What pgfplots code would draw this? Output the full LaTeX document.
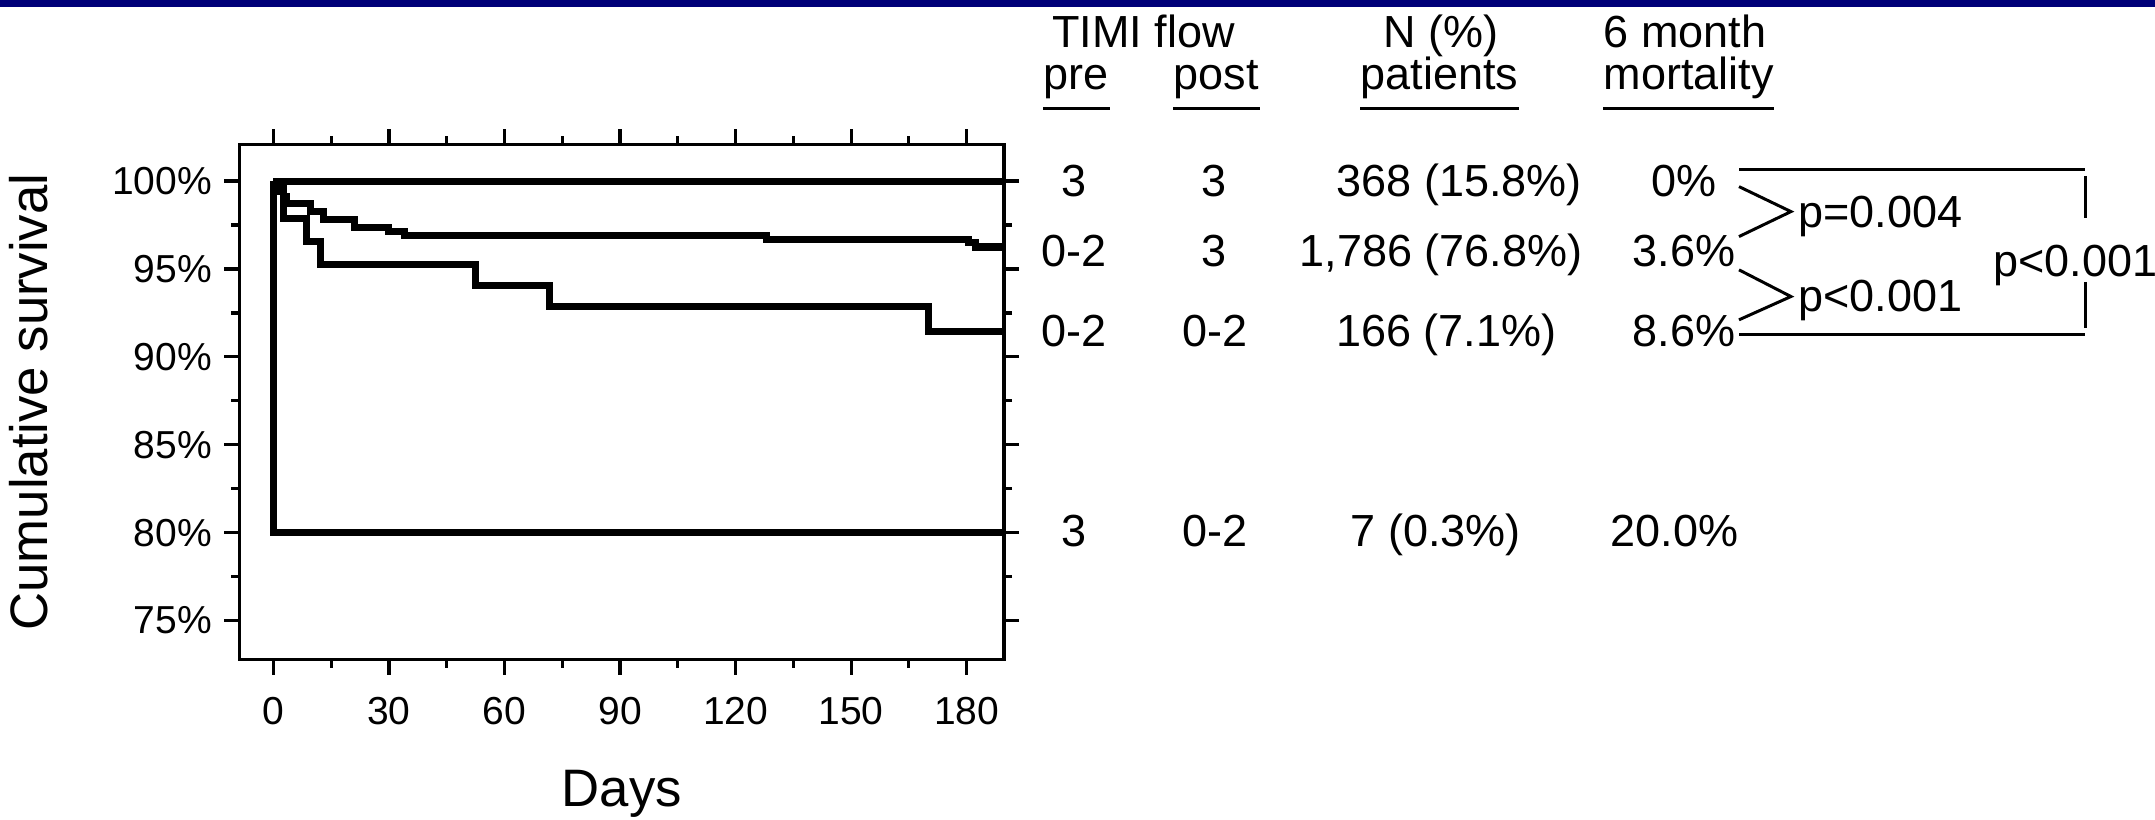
\documentclass[border=0pt]{standalone}
\usepackage{pgfplots}
\pgfplotsset{compat=1.18}
\usepackage{fontspec}
\setmainfont{Liberation Sans}
\definecolor{navybar}{RGB}{0,0,120}

\begin{document}
\begin{tikzpicture}
\path[use as bounding box] (0,0) rectangle (21.55cm,-8.19cm);
\fill[navybar] (0,0) rectangle (21.55cm,-0.065cm);
\begin{axis}[
  at={(2.395cm,-6.596cm)}, anchor=south west,
  scale only axis, width=7.645cm, height=5.151cm,
  xmin=-8.8, xmax=189.7, ymin=72.78, ymax=102.08,
  axis line style={line width=0.9pt},
  tick align=outside,
  major tick length=0.15cm, minor tick length=0.08cm,
  every tick/.style={black, line width=0.9pt},
  xtick={0,30,60,90,120,150,180}, xticklabels={0,30,60,90,120,150,180},
  minor xtick={15,45,75,105,135,165},
  ytick={75,80,85,90,95,100}, yticklabels={75\%,80\%,85\%,90\%,95\%,100\%},
  minor ytick={77.5,82.5,87.5,92.5,97.5},
  ticklabel style={font=\fontsize{11.1}{13}\selectfont},
  xticklabel style={yshift=-0.1cm},
  xlabel={Days}, ylabel={Cumulative survival},
  label style={font=\fontsize{15}{18}\selectfont},
  xlabel style={at={(axis description cs:0.5,-0.2854)}, anchor=base},
  ylabel style={at={(axis description cs:-0.2516,0.5)}, anchor=base},
  clip=false,
]
% TIMI 3 / 3
\addplot[black, line width=2pt] coordinates {(0,100) (189.5,100)};
% TIMI 3 / 0-2
\addplot[black, line width=2pt] coordinates {(0,100) (0,80) (189.5,80)};
% TIMI 0-2 / 3
\addplot[black, line width=2pt, const plot] coordinates {
(0,100) (0.7,99.7) (1.5,99.4) (2.5,99.1) (3.5,98.7) (9.6,98.25) (13.0,97.8)
(21.0,97.35) (29.8,97.15) (34.0,96.9) (128.0,96.7) (180.6,96.5) (182.3,96.25) (189.5,96.25)};
% TIMI 0-2 / 0-2
\addplot[black, line width=2pt, const plot] coordinates {
(0,100) (2.5,97.85) (8.6,96.55) (12.2,95.25) (52.5,94.05) (71.7,92.85) (170.0,91.45) (189.5,91.45)};
\end{axis}

\begin{scope}[x=0.01cm, y=-0.01cm, every node/.style={font=\fontsize{12.8}{15}\selectfont, inner sep=0pt}]
% header
\node[anchor=base west] at (1052,48) {TIMI flow};
\node[anchor=base] at (1442,48) {N (\%)};
\node[anchor=base west] at (1604,48) {6 month};
\node[anchor=base] (pre) at (1077,90) {pre};
\node[anchor=base] (post) at (1217,90) {post};
\node[anchor=base] (pat) at (1440.5,90) {patients};
\node[anchor=base west] (mort) at (1604,90) {mortality};
\foreach \n in {pre,post,pat,mort}{
  \draw[line width=0.7pt] ([yshift=-0.185cm]\n.base west) -- ([yshift=-0.185cm]\n.base east);
}
% row 1
\node[anchor=base] at (1075,197) {3};
\node[anchor=base] at (1215,197) {3};
\node[anchor=base] at (1460,197) {368 (15.8\%)};
\node[anchor=base east] at (1718,197) {0\%};
% row 2
\node[anchor=base] at (1075,267) {0-2};
\node[anchor=base] at (1215,267) {3};
\node[anchor=base] at (1442,267) {1,786 (76.8\%)};
\node[anchor=base east] at (1737,267) {3.6\%};
% row 3
\node[anchor=base] at (1075,347) {0-2};
\node[anchor=base] at (1215.5,347) {0-2};
\node[anchor=base] at (1447,347) {166 (7.1\%)};
\node[anchor=base east] at (1737,347) {8.6\%};
% row 4
\node[anchor=base] at (1075,547) {3};
\node[anchor=base] at (1216,547) {0-2};
\node[anchor=base] at (1436.5,547) {7 (0.3\%)};
\node[anchor=base east] at (1740,547) {20.0\%};
% brackets
\draw[line width=0.85pt] (1740,170) -- (2086.5,170);
\draw[line width=0.85pt] (1740,335) -- (2086.5,335);
\draw[line width=0.85pt] (1740,186.7) -- (1792,211.7) -- (1740,236.7);
\draw[line width=0.85pt] (1740,270) -- (1792,296.7) -- (1740,320);
\draw[line width=0.85pt] (2086.5,176) -- (2086.5,218);
\draw[line width=0.85pt] (2086.5,282) -- (2086.5,328);
\node[anchor=base west] at (1799,228) {p=0.004};
\node[anchor=base west] at (1799,312) {p<0.001};
\node[anchor=base west] at (1994,277) {p<0.001};
\end{scope}
\end{tikzpicture}
\end{document}
